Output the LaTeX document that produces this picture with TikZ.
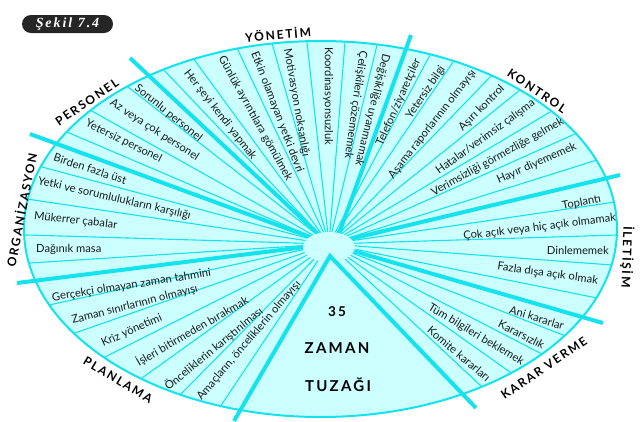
\documentclass[tikz,border=0pt]{standalone}
\usepackage{fontspec}
\setmainfont{Lato}
\newfontfamily\catfont[LetterSpace=15]{Lato}
\newfontfamily\figfont[LetterSpace=14]{Liberation Serif}
\newlength{\du}
\setlength{\du}{1\unitlength}
\definecolor{raycolor}{rgb}{0.080000, 0.890000, 0.930000}
\definecolor{papercolor}{rgb}{0.800000, 1.000000, 1.000000}
\definecolor{inkcolor}{rgb}{0.100000, 0.100000, 0.100000}
\definecolor{tagcolor}{rgb}{0.150000, 0.150000, 0.150000}
\tikzset{
  rim/.style={draw=raycolor, line width=2\du},
  thinray/.style={draw=raycolor, line width=1.1\du, shorten >=-16\du},
  thickray/.style={draw=raycolor, line width=4\du},
  item/.style={inner sep=0pt, text=inkcolor, font=\fontsize{11.2}{13}\selectfont},
  cat/.style={inner sep=0pt, text=black, font=\catfont\bfseries\fontsize{12}{14}\selectfont},
  trap/.style={inner sep=0pt, text=black, font=\catfont\bfseries\fontsize{15}{18}\selectfont},
}
\begin{document}
\begin{tikzpicture}
\pgftransformxscale{1.000000}
\pgftransformyscale{-1.000000}
\useasboundingbox (0\du,0\du) rectangle (642\du,421\du);
% tag
\node[fill=tagcolor, rounded corners=9\du, minimum width=91\du, minimum height=18\du, inner sep=0pt, text=white, font=\figfont\bfseries\itshape\fontsize{14}{16}\selectfont] (sekil) at (67.5\du,24\du) {Şekil 7.4};
\coordinate (hub) at (329\du,244\du);
\coordinate (apex) at (330\du,256\du);
\fill[papercolor] (320.5\du,229\du) ellipse ({296.5\du} and {188\du});
\begin{scope}
\clip (320.5\du,229\du) ellipse ({296.5\du} and {188\du});
% organizasyon
\draw[thinray] (hub) -- (42\du,167\du);
\draw[thinray] (hub) -- (27\du,199\du);
\draw[thinray] (hub) -- (27\du,235\du);
\draw[thinray] (hub) -- (30\du,263\du);
% personel
\draw[thinray] (hub) -- (67\du,132\du);
\draw[thinray] (hub) -- (90\du,110\du);
\draw[thinray] (hub) -- (123\du,83\du);
% yonetim
\draw[thinray] (hub) -- (162\du,68\du);
\draw[thinray] (hub) -- (193\du,58\du);
\draw[thinray] (hub) -- (237\du,48\du);
\draw[thinray] (hub) -- (272\du,43\du);
\draw[thinray] (hub) -- (307\du,42\du);
\draw[thinray] (hub) -- (345\du,42\du);
\draw[thinray] (hub) -- (377\du,45\du);
% kontrol
\draw[thinray] (hub) -- (430\du,55\du);
\draw[thinray] (hub) -- (453\du,62\du);
\draw[thinray] (hub) -- (492\du,75\du);
\draw[thinray] (hub) -- (520\du,90\du);
\draw[thinray] (hub) -- (550\du,112\du);
\draw[thinray] (hub) -- (577\du,133\du);
\draw[thinray] (hub) -- (597\du,160\du);
% iletisim
\draw[thinray] (hub) -- (615\du,202\du);
\draw[thinray] (hub) -- (617\du,235\du);
\draw[thinray] (hub) -- (612\du,265\du);
\draw[thinray] (hub) -- (597\du,298\du);
% karar verme
\draw[thinray] (hub) -- (563\du,335\du);
\draw[thinray] (hub) -- (540\du,353\du);
\draw[thinray] (hub) -- (510\du,372\du);
\draw[thinray] (hub) -- (480\du,385\du);
% planlama
\draw[thinray] (hub) -- (49\du,305\du);
\draw[thinray] (hub) -- (75\du,333\du);
\draw[thinray] (hub) -- (105\du,357\du);
\draw[thinray] (hub) -- (142\du,378\du);
\draw[thinray] (hub) -- (180\du,395\du);
\draw[thinray] (hub) -- (220\du,407\du);
\end{scope}
% dividers
\draw[thickray] (hub) -- (30\du,134\du);
\draw[thickray] (hub) -- (130\du,58\du);
\draw[thickray] (336\du,242\du) -- (411\du,35\du);
\draw[thickray] (hub) -- (620\du,175\du);
\draw[thickray] (hub) -- (603\du,323\du);
\draw[thickray] (hub) -- (17\du,283\du);
\fill[papercolor] (329\du,247\du) ellipse ({26\du} and {15\du});
\draw[thickray, line join=miter] (234\du,421\du) -- (apex) -- (476\du,408\du);
\draw[rim] (320.5\du,229\du) ellipse ({296.5\du} and {188\du});
% setfont left to latex
\node[item, anchor=west, rotate=-18] (birden) at (54\du,157\du) {Birden fazla üst};
\node[item, anchor=west, rotate=-13] (yetki) at (38\du,181\du) {Yetki ve sorumlulukların karşılığı};
\node[item, anchor=west, rotate=-6.5] (mukerrer) at (34\du,216\du) {Mükerrer çabalar};
\node[item, anchor=west, rotate=0] (daginik) at (36\du,249\du) {Dağınık masa};
\node[item, anchor=west, rotate=-39] (sorunlu) at (136\du,87\du) {Sorunlu personel};
\node[item, anchor=west, rotate=-33] (azcok) at (111\du,102\du) {Az veya çok personel};
\node[item, anchor=west, rotate=-26] (yetpers) at (86\du,123\du) {Yetersiz personel};
\node[item, anchor=west, rotate=-52] (herseyi) at (186\du,71\du) {Her şeyi kendi yapmak};
\node[item, anchor=west, rotate=-61] (gunluk) at (221\du,57\du) {Günlük ayrıntılara gömülmek};
\node[item, anchor=west, rotate=-69] (etkin) at (254\du,52\du) {Etkin olamayan yetki devri};
\node[item, anchor=west, rotate=-80] (motiv) at (287\du,49\du) {Motivasyon noksanlığı};
\node[item, anchor=west, rotate=-90] (koord) at (328\du,47\du) {Koordinasyonsuzluk};
\node[item, anchor=west, rotate=-98] (celiski) at (363\du,51\du) {Çelişkileri çözememek};
\node[item, anchor=west, rotate=-104] (degisik) at (386\du,54\du) {Değişikliğe uyanmamak};
% setfont left to latex
\node[item, anchor=east, rotate=66] (telefon) at (418\du,59\du) {Telefon/ziyaretçiler};
\node[item, anchor=east, rotate=56] (yetbilgi) at (443\du,67\du) {Yetersiz bilgi};
\node[item, anchor=east, rotate=52] (asama) at (474\du,71\du) {Aşama raporlarının olmayışı};
\node[item, anchor=east, rotate=45] (asiri) at (503\du,87\du) {Aşırı kontrol};
\node[item, anchor=east, rotate=36] (hatalar) at (534\du,102\du) {Hatalar/verimsiz çalışma};
\node[item, anchor=east, rotate=29] (verimsiz) at (563\du,121\du) {Verimsizliği görmezliğe gelmek};
\node[item, anchor=east, rotate=24] (hayir) at (576\du,146\du) {Hayır diyememek};
\node[item, anchor=east, rotate=11] (toplanti) at (601\du,199\du) {Toplantı};
\node[item, anchor=east, rotate=7] (cokacik) at (616\du,218\du) {Çok açık veya hiç açık olmamak};
\node[item, anchor=east, rotate=-1] (dinleme) at (609\du,251\du) {Dinlememek};
\node[item, anchor=east, rotate=-8] (fazla) at (598\du,281\du) {Fazla dışa açık olmak};
\node[item, anchor=east, rotate=-17] (ani) at (564\du,326\du) {Ani kararlar};
\node[item, anchor=east, rotate=-27] (kararsiz) at (544\du,346\du) {Kararsızlık};
\node[item, anchor=east, rotate=-31] (tumbilgi) at (523\du,363\du) {Tüm bilgileri beklemek};
\node[item, anchor=east, rotate=-40] (komite) at (489\du,379\du) {Komite kararları};
% setfont left to latex
\node[item, anchor=west, rotate=9] (gercekci) at (52\du,298\du) {Gerçekçi olmayan zaman tahmini};
\node[item, anchor=west, rotate=14.5] (zamansinir) at (72\du,321\du) {Zaman sınırlarının olmayışı};
\node[item, anchor=west, rotate=24] (kriz) at (102\du,344\du) {Kriz yönetimi};
\node[item, anchor=west, rotate=30] (isleri) at (137\du,363\du) {İşleri bitirmeden bırakmak};
\node[item, anchor=west, rotate=39.5] (oncelik) at (166\du,388\du) {Önceliklerin karıştırılması};
\node[item, anchor=west, rotate=49.5] (amaclar) at (199\du,399\du) {Amaçların, önceliklerin olmayışı};
% setfont left to latex
\node[cat, rotate=5] (yonetim) at (278\du,34\du) {YÖNETİM};
\node[cat, rotate=34] (personel) at (87\du,102\du) {PERSONEL};
\node[cat, rotate=79] (organizasyon) at (21\du,210\du) {ORGANİZASYON};
\node[cat, rotate=-31] (planlama) at (118\du,380\du) {PLANLAMA};
\node[cat, rotate=34] (kararverme) at (544\du,368\du) {KARAR VERME};
\node[cat, rotate=-92] (iletisim) at (627\du,257\du) {İLETİŞİM};
\node[cat, rotate=-34] (kontrol) at (537\du,91\du) {KONTROL};
\node[trap, font=\catfont\bfseries\fontsize{13.5}{16}\selectfont] (otuzbes) at (337\du,312\du) {35};
\node[trap] (zaman) at (337\du,348\du) {ZAMAN};
\node[trap] (tuzak) at (338\du,385\du) {TUZAĞI};
\end{tikzpicture}
\end{document}
